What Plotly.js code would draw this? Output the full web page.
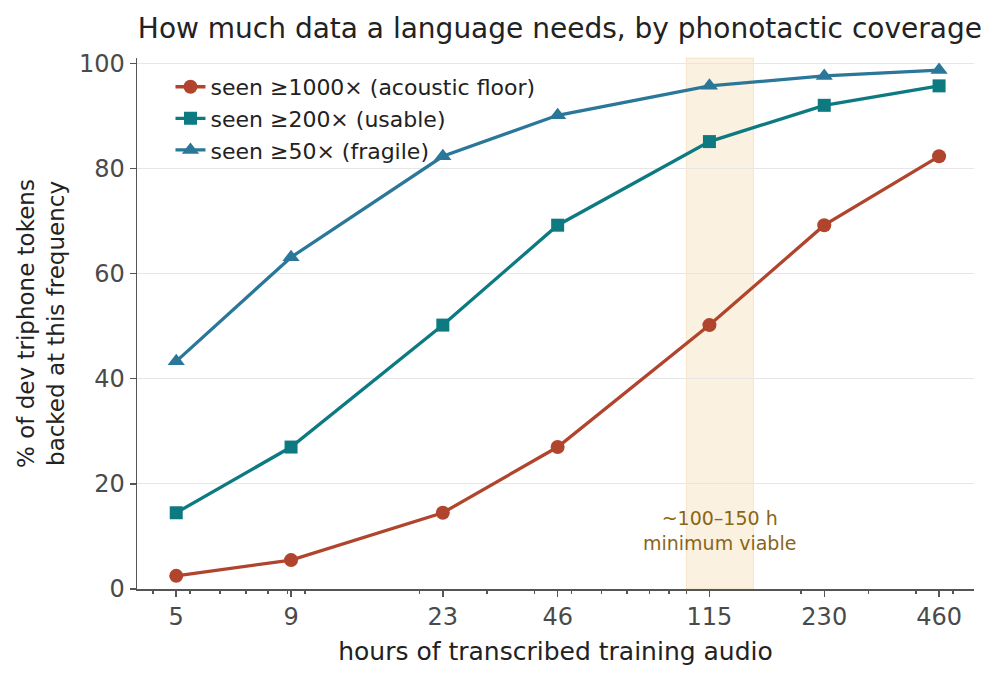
<!DOCTYPE html>
<html>
<head>
<meta charset="utf-8">
<script src="https://cdn.plot.ly/plotly-3.0.1.min.js"></script>
<style>
  html, body { margin: 0; padding: 0; background: #ffffff; }
  #chart { width: 998px; height: 675px; }
</style>
</head>
<body>
<div id="chart"></div>
<script>
// hours of audio (plotted on a log axis) and the labels shown under them
var hours = [4.6, 9.2, 23, 46, 115, 230, 460];
var hourLabels = ["5", "9", "23", "46", "115", "230", "460"];

// % of dev triphone tokens seen at least N times
var seen1000 = [2.5, 5.5, 14.5, 27.0, 50.2, 69.2, 82.3];
var seen200 = [14.5, 27.0, 50.2, 69.2, 85.1, 92.0, 95.7];
var seen50 = [43.3, 63.1, 82.3, 90.1, 95.7, 97.6, 98.7];

// shaded "minimum viable" band
var bandStart = 100;
var bandEnd = 150;

var minorHours = [4, 5, 6, 7, 8, 9, 10, 20, 30, 40, 50, 60, 70, 80, 90, 100, 200, 300, 400, 500];

var fontFam = "DejaVu Sans, sans-serif";

function makeTrace(y, name, color, symbol, size) {
  return {
    x: hours,
    y: y,
    name: name,
    type: "scatter",
    mode: "lines+markers",
    line: {color: color, width: 3.3},
    marker: {color: color, symbol: symbol, size: size},
    hoverinfo: "x+y+name"
  };
}

var data = [
  makeTrace(seen1000, "seen \u22651000\u00d7 (acoustic floor)", "#b1442c", "circle", 14),
  makeTrace(seen200, "seen \u2265200\u00d7 (usable)", "#0d7a82", "square", 13),
  makeTrace(seen50, "seen \u226550\u00d7 (fragile)", "#2a7799", "triangle-up", 15)
];

var layout = {
  width: 998,
  height: 675,
  margin: {l: 137, r: 24, t: 58, b: 86},
  paper_bgcolor: "#ffffff",
  plot_bgcolor: "#ffffff",
  font: {family: fontFam, color: "#4a4a4a"},
  showlegend: true,
  title: {
    text: "How much data a language needs, by phonotactic coverage",
    font: {family: fontFam, size: 28, color: "#222222"},
    xref: "container", x: 0.561, xanchor: "center",
    yref: "container", y: 0.958, yanchor: "middle"
  },
  xaxis: {
    type: "log",
    range: [Math.log10(3.63), Math.log10(568)],
    tickmode: "array",
    tickvals: hours,
    ticktext: hourLabels,
    ticks: "outside",
    ticklen: 6,
    tickwidth: 1.5,
    tickcolor: "#555555",
    tickfont: {size: 24, color: "#4a4a4a"},
    showgrid: false,
    showline: true,
    linecolor: "#555555",
    linewidth: 1.5,
    zeroline: false,
    minor: {
      tickmode: "array",
      tickvals: minorHours,
      ticks: "outside",
      ticklen: 3.5,
      tickcolor: "#555555",
      showgrid: false
    },
    title: {
      text: "hours of transcribed training audio",
      font: {size: 25, color: "#222222"},
      standoff: 12
    }
  },
  yaxis: {
    range: [0, 101],
    tickvals: [0, 20, 40, 60, 80, 100],
    ticks: "outside",
    ticklen: 6,
    tickwidth: 1.5,
    tickcolor: "#555555",
    tickfont: {size: 24, color: "#4a4a4a"},
    showgrid: true,
    gridcolor: "#e6e6e6",
    gridwidth: 1,
    showline: true,
    linecolor: "#555555",
    linewidth: 1.5,
    zeroline: false,
    title: {
      text: "% of dev triphone tokens<br>backed at this frequency",
      font: {size: 23, color: "#222222"},
      standoff: 8
    }
  },
  legend: {
    x: 0.04, y: 0.985,
    xanchor: "left", yanchor: "top",
    bgcolor: "rgba(255,255,255,0)",
    font: {size: 22, color: "#222222"},
    tracegroupgap: 0
  },
  shapes: [{
    type: "rect",
    xref: "x", yref: "paper",
    x0: bandStart, x1: bandEnd,
    y0: 0, y1: 1,
    fillcolor: "rgba(240, 200, 130, 0.25)",
    line: {color: "rgba(235, 195, 120, 0.35)", width: 1},
    layer: "below"
  }],
  annotations: [{
    x: Math.log10(Math.sqrt(bandStart * bandEnd)),
    y: 11.2,
    xref: "x", yref: "y",
    text: "~100\u2013150 h<br>minimum viable",
    showarrow: false,
    font: {size: 19, color: "#8a6516"},
    align: "center"
  }]
};

Plotly.newPlot("chart", data, layout, {displayModeBar: false, staticPlot: true});
</script>
</body>
</html>
